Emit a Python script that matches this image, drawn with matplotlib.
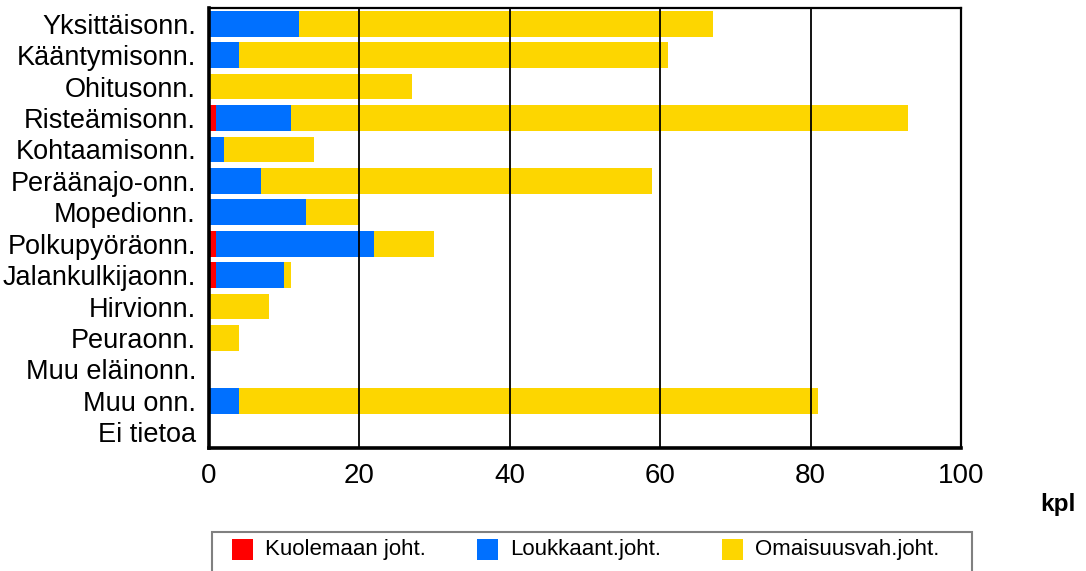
import matplotlib
matplotlib.use("Agg")
import matplotlib.pyplot as plt
from matplotlib.patches import Rectangle
import numpy as np

categories = ["Yksittäisonn.", "Kääntymisonn.", "Ohitusonn.", "Risteämisonn.",
              "Kohtaamisonn.", "Peräänajo-onn.", "Mopedionn.", "Polkupyöräonn.",
              "Jalankulkijaonn.", "Hirvionn.", "Peuraonn.", "Muu eläinonn.",
              "Muu onn.", "Ei tietoa"]
kuolemaan = [0, 0, 0, 1, 0, 0, 0, 1, 1, 0, 0, 0, 0, 0]
loukkaant = [12, 4, 0, 10, 2, 7, 13, 21, 9, 0, 0, 0, 4, 0]
omaisuus = [55, 57, 27, 82, 12, 52, 7, 8, 1, 8, 4, 0, 77, 0]
series_names = ["Kuolemaan joht.", "Loukkaant.joht.", "Omaisuusvah.joht."]
series_colors = ["#FF0000", "#0070FF", "#FDD600"]
x_ticks = [0, 20, 40, 60, 80, 100]
x_unit = "kpl"

W, H = 1086, 571
fig = plt.figure(figsize=(W / 100, H / 100), dpi=100)
ax = fig.add_axes([208.5 / W, 1 - 448 / H, (961 - 208.5) / W, 440 / H])

y = np.arange(len(categories))
left = np.zeros(len(categories))
for vals, col, name in zip([kuolemaan, loukkaant, omaisuus], series_colors, series_names):
    vals = np.array(vals, dtype=float)
    ax.barh(y, vals, left=left, height=0.82, color=col, label=name, zorder=2)
    left += vals

ax.set_xlim(0, 100)
ax.set_ylim(len(categories) - 0.5, -0.5)
ax.set_xticks(x_ticks)
ax.set_xticklabels([str(t) for t in x_ticks], family="Liberation Sans", fontsize=20)
ax.set_yticks(y)
ax.set_yticklabels(categories, family="Liberation Sans", fontsize=19.5)
ax.tick_params(axis="x", length=0, pad=11)
ax.tick_params(axis="y", length=0, pad=9)
for t in x_ticks[1:-1]:
    ax.axvline(t, color="black", lw=1.3, zorder=3)

for side in ["top", "right"]:
    ax.spines[side].set_linewidth(1.6)
for side in ["left", "bottom"]:
    ax.spines[side].set_linewidth(2.6)
for s in ax.spines.values():
    s.set_zorder(4)

fig.text(1040 / W, 1 - 504 / H, x_unit, fontsize=17.5, fontweight="bold",
         family="Liberation Sans", ha="left", va="center")

# legend box
fig.patches.append(Rectangle((212 / W, 1 - 590 / H), (972 - 212) / W, 58 / H,
                             transform=fig.transFigure, facecolor="white",
                             edgecolor="#808080", lw=1.5))
xs = [232, 477, 722]
for xp, col, name in zip(xs, series_colors, series_names):
    fig.patches.append(Rectangle((xp / W, 1 - 560 / H), 21 / W, 21 / H,
                                 transform=fig.transFigure, facecolor=col,
                                 edgecolor="none"))
    fig.text((xp + 33) / W, 1 - 550 / H, name, fontsize=16,
             family="Liberation Sans", ha="left", va="center")

fig.savefig("out.png", dpi=100)
